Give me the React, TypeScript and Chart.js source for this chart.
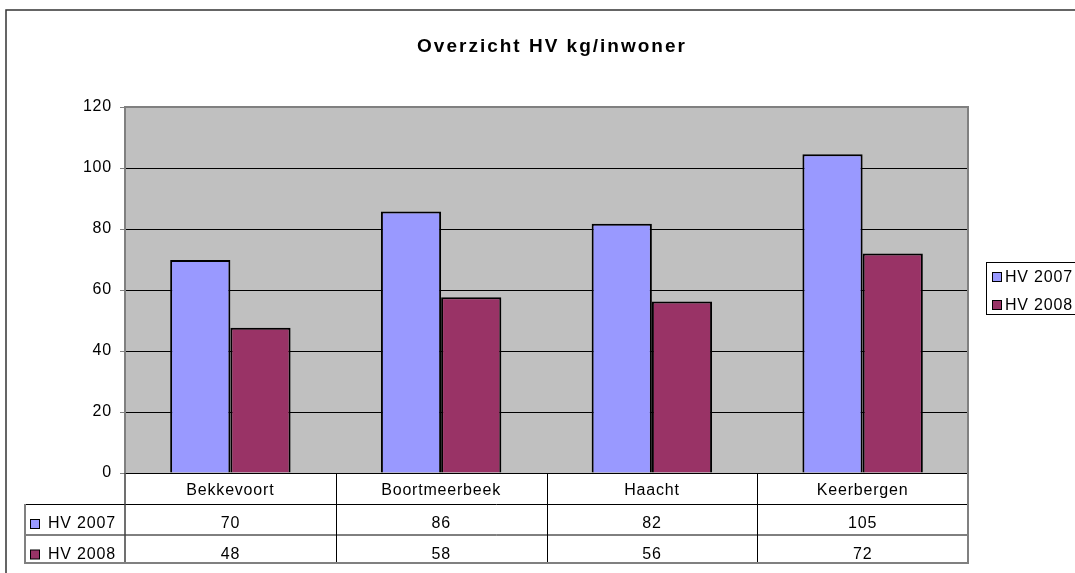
import React, { useEffect, useRef } from 'react';
import { Chart, registerables } from 'chart.js';

Chart.register(...registerables);

const chartTitle = 'Overzicht HV kg/inwoner';
const categories = ['Bekkevoort', 'Boortmeerbeek', 'Haacht', 'Keerbergen'];
const seriesLabels = ['HV 2007', 'HV 2008'];
const hv2007 = [69.8, 85.7, 81.7, 104.5];
const hv2008 = [47.6, 57.6, 56.2, 72.0];
const seriesColors = ['#9999FF', '#993366'];
const yMin = 0;
const yMax = 120;
const yStep = 20;

const FONT = "'Liberation Sans', Arial, sans-serif";

export default function App() {
  const ref = useRef<HTMLCanvasElement>(null);

  useEffect(() => {
    const canvas = ref.current;
    if (!canvas) return;
    const seriesValues = [hv2007, hv2008];

    const excelPlugin = {
      id: 'excelLook',
      beforeUpdate(chart: any) {
        chart.ctx.letterSpacing = '0.8px';
      },
      beforeDraw(chart: any) {
        const { ctx, chartArea: a } = chart;
        ctx.save();
        ctx.fillStyle = '#ffffff';
        ctx.fillRect(0, 0, chart.width, chart.height);
        ctx.fillStyle = '#C0C0C0';
        ctx.fillRect(a.left, a.top, a.right - a.left, a.bottom - a.top);
        ctx.restore();
        ctx.letterSpacing = '0.8px';
      },
      beforeDatasetsDraw(chart: any) {
        const { ctx, chartArea: a } = chart;
        ctx.save();
        ctx.strokeStyle = '#808080';
        ctx.lineWidth = 2;
        ctx.beginPath();
        ctx.moveTo(a.left, a.top);
        ctx.lineTo(a.right, a.top);
        ctx.lineTo(a.right, a.bottom);
        ctx.stroke();
        ctx.restore();
      },
      afterDraw(chart: any) {
        const { ctx, chartArea: a } = chart;
        const n = categories.length;
        const catW = (a.right - a.left) / n;
        const r0 = a.bottom;
        const r1 = r0 + 31;
        const r2 = r1 + 30.5;
        const r3 = r2 + 28.5;
        const leftCol = 25;

        ctx.save();
        // outer chart border
        ctx.strokeStyle = '#333333';
        ctx.lineWidth = 1.5;
        ctx.beginPath();
        ctx.moveTo(6, chart.height + 2);
        ctx.lineTo(6, 10);
        ctx.lineTo(chart.width + 2, 10);
        ctx.stroke();

        // title
        ctx.fillStyle = '#000';
        ctx.font = `bold 19px ${FONT}`;
        ctx.letterSpacing = '2px';
        ctx.textAlign = 'center';
        ctx.textBaseline = 'alphabetic';
        ctx.fillText(chartTitle, 552, 52);

        // table inner lines
        ctx.strokeStyle = '#000';
        ctx.lineWidth = 1;
        ctx.beginPath();
        for (let i = 1; i < n; i++) {
          const x = Math.round(a.left + i * catW) + 0.5;
          ctx.moveTo(x, r0);
          ctx.lineTo(x, r3);
        }
        ctx.moveTo(leftCol, r1 + 0.5);
        ctx.lineTo(a.right, r1 + 0.5);
        ctx.moveTo(leftCol, r2 + 0.5);
        ctx.lineTo(a.right, r2 + 0.5);
        ctx.stroke();

        // left column divider
        ctx.strokeStyle = '#404040';
        ctx.lineWidth = 1.5;
        ctx.beginPath();
        ctx.moveTo(a.left, r0);
        ctx.lineTo(a.left, r3);
        ctx.stroke();

        // table outer border
        ctx.strokeStyle = '#808080';
        ctx.lineWidth = 2;
        ctx.beginPath();
        ctx.moveTo(leftCol, r1);
        ctx.lineTo(leftCol, r3);
        ctx.lineTo(a.right, r3);
        ctx.lineTo(a.right, r0);
        ctx.stroke();

        // table rows
        ctx.font = `16px ${FONT}`;
        ctx.letterSpacing = '0.8px';
        ctx.textBaseline = 'alphabetic';
        const rowBase = [r1 + 24, r2 + 24];
        const rowTop = [r1, r2];
        for (let s = 0; s < seriesValues.length; s++) {
          ctx.fillStyle = seriesColors[s];
          ctx.fillRect(30.5, rowTop[s] + 15.5, 9, 9);
          ctx.strokeStyle = '#000';
          ctx.lineWidth = 1;
          ctx.strokeRect(30.5, rowTop[s] + 15.5, 9, 9);
          ctx.fillStyle = '#000';
          ctx.textAlign = 'left';
          ctx.fillText(seriesLabels[s], 48, rowBase[s]);
          ctx.textAlign = 'center';
          for (let i = 0; i < n; i++) {
            const cx = chart.scales.x.getPixelForValue(i);
            ctx.fillText(String(Math.round(seriesValues[s][i])), cx, rowBase[s]);
          }
        }

        // legend on the right
        const lx = a.right + 18;
        const ly = 262;
        ctx.strokeStyle = '#000';
        ctx.lineWidth = 1;
        ctx.strokeRect(lx + 0.5, ly + 0.5, 120, 52);
        for (let s = 0; s < seriesLabels.length; s++) {
          const iy = ly + 10 + s * 28;
          ctx.fillStyle = seriesColors[s];
          ctx.fillRect(lx + 6.5, iy + 0.5, 9, 9);
          ctx.strokeStyle = '#000';
          ctx.strokeRect(lx + 6.5, iy + 0.5, 9, 9);
          ctx.fillStyle = '#000';
          ctx.textAlign = 'left';
          ctx.fillText(seriesLabels[s], lx + 19, iy + 10);
        }
        ctx.restore();
      },
    };

    const chart = new Chart(canvas, {
      type: 'bar',
      data: {
        labels: categories,
        datasets: seriesLabels.map((label, i) => ({
          label,
          data: seriesValues[i],
          backgroundColor: seriesColors[i],
          borderColor: '#000000',
          borderWidth: 2,
          categoryPercentage: 2 / 3.5,
          barPercentage: 1,
        })),
      },
      options: {
        responsive: false,
        animation: false,
        devicePixelRatio: 1,
        layout: { padding: { left: 0, top: 107, right: 107, bottom: 69 } },
        plugins: {
          legend: { display: false },
          title: { display: false },
          tooltip: { enabled: false },
        },
        scales: {
          x: {
            afterFit: (scale: any) => {
              scale.height = 31;
            },
            grid: { display: false, drawTicks: false },
            border: { display: true, color: '#000000', width: 1 },
            ticks: {
              color: '#000',
              font: { family: FONT, size: 16 },
              padding: 8,
              maxRotation: 0,
              autoSkip: false,
            },
          },
          y: {
            min: yMin,
            max: yMax,
            afterFit: (scale: any) => {
              scale.width = 125;
            },
            grid: {
              color: (c: any) => (c.tick && c.tick.value === yMax ? 'rgba(0,0,0,0)' : '#000000'),
              tickColor: '#808080',
              tickLength: 5,
              lineWidth: 1,
            },
            border: { display: true, color: '#808080', width: 2 },
            ticks: {
              stepSize: yStep,
              color: '#000',
              font: { family: FONT, size: 16 },
              padding: 8,
            },
          },
        },
      },
      plugins: [excelPlugin],
    });

    return () => {
      chart.destroy();
    };
  }, []);

  return (
    <div
      style={{
        position: 'absolute',
        left: 0,
        top: 0,
        width: 1075,
        height: 573,
        overflow: 'hidden',
        background: '#ffffff',
      }}
    >
      <canvas ref={ref} width={1075} height={573} style={{ display: 'block' }} />
    </div>
  );
}
